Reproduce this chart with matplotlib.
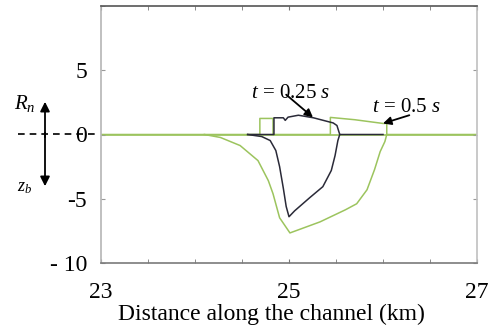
import matplotlib
matplotlib.use("Agg")
import matplotlib.pyplot as plt
import matplotlib.patches as mpatches
import numpy as np

# ---- data (km, m) ----
green_Rn_x = [23.0, 24.69, 24.69, 24.83, 24.83, 25.44, 25.44, 25.70, 26.00, 26.04, 26.04, 27.0]
green_Rn_y = [0.0, 0.0, 1.25, 1.25, 0.0, 0.0, 1.33, 1.15, 0.86, 0.86, 0.0, 0.0]

green_zb_x = [24.10, 24.27, 24.48, 24.67, 24.78, 24.83, 24.90, 25.01, 25.33, 25.60, 25.72,
              25.83, 25.91, 25.97, 26.02, 26.04]
green_zb_y = [0.0, -0.23, -0.86, -2.03, -3.59, -4.61, -6.48, -7.66, -6.80, -5.86, -5.39,
              -4.30, -2.73, -1.33, -0.55, 0.0]

black_Rn_x = [24.56, 24.84, 24.84, 24.94, 24.96, 24.99, 25.10, 25.26, 25.47, 25.51, 25.54, 26.0]
black_Rn_y = [0.0, 0.0, 1.30, 1.30, 1.10, 1.35, 1.50, 1.30, 0.90, 0.70, 0.0, 0.0]

black_zb_x = [24.56, 24.71, 24.80, 24.86, 24.90, 24.94, 24.97, 25.00, 25.06, 25.22, 25.36,
              25.45, 25.49, 25.52, 25.54]
black_zb_y = [0.0, -0.16, -0.47, -1.25, -2.50, -4.20, -5.60, -6.40, -5.94, -4.92, -4.06,
              -2.80, -1.64, -0.47, 0.0]

xticks = [23, 25, 27]
yticks = [-10, -5, 0, 5]
ytick_labels = ["- 10", "-5", "0", "5"]

GREEN = "#9cc45e"
DARK = "#2a2a38"
SERIF = ["Liberation Serif", "DejaVu Serif"]

plt.rcParams["font.family"] = SERIF
plt.rcParams["mathtext.fontset"] = "custom"
plt.rcParams["mathtext.rm"] = "Liberation Serif"
plt.rcParams["mathtext.it"] = "Liberation Serif:italic"

fig = plt.figure(figsize=(4.9, 3.32), dpi=100)
ax = fig.add_axes([101/490, 1-263/332, 376/490, 257/332])

ax.axhline(0, color=GREEN, lw=1.2, zorder=1)
ax.plot(green_zb_x, green_zb_y, color=GREEN, lw=1.1, zorder=2)
ax.plot(green_Rn_x, green_Rn_y, color=GREEN, lw=1.1, zorder=2)
ax.plot(black_zb_x, black_zb_y, color=DARK, lw=1.1, zorder=3)
ax.plot(black_Rn_x, black_Rn_y, color=DARK, lw=1.1, zorder=3)

ax.set_xlim(23, 27)
ax.set_ylim(-10, 10)
ax.set_xticks(np.arange(23, 27.01, 0.5), minor=True)
ax.set_xticks(xticks)
ax.set_xticklabels([str(v) for v in xticks], fontsize=17, fontfamily=SERIF)
ax.set_yticks(yticks)
ax.set_yticks([10], minor=True)
ax.set_yticklabels(ytick_labels, fontsize=17, fontfamily=SERIF)
ax.tick_params(axis="x", which="both", direction="in", top=True, length=3, pad=14,
               color="#777777")
ax.tick_params(axis="y", which="both", direction="in", right=True, length=3, pad=10,
               color="#999999")
ax.spines["left"].set_color("#b5b5b5")
ax.spines["right"].set_color("#c0c0c0")
ax.spines["bottom"].set_color("#7a7a7a")
ax.spines["top"].set_color("#555555")
for s in ax.spines.values():
    s.set_linewidth(1.2)

ax.set_xlabel("Distance along the channel (km)", fontsize=17, fontfamily=SERIF)
ax.xaxis.set_label_coords((271 - 101) / 376, -(304 - 263) / 257)

# annotations
ax.text(25.02, 3.2, "$t$ = 0.25 $s$", fontsize=15, ha="center", va="center")
ax.annotate("", xy=(25.255, 1.33), xytext=(24.97, 3.1),
            arrowprops=dict(arrowstyle="-|>", color="black", lw=1.3, mutation_scale=12,
                            shrinkA=0, shrinkB=0))
ax.text(26.25, 2.1, "$t$ = 0.5 $s$", fontsize=15, ha="center", va="center")
ax.annotate("", xy=(26.0, 0.86), xytext=(26.28, 1.5),
            arrowprops=dict(arrowstyle="-|>", color="black", lw=1.3, mutation_scale=12,
                            shrinkA=0, shrinkB=0))

# left-side sign convention
def fx(px):
    return px / 490
def fy(py):
    return 1 - py / 332

fig.add_artist(plt.Line2D([fx(18), fx(98)], [fy(134), fy(134)], color="black",
                          lw=1.2, ls=(0, (4, 3))))
fig.add_artist(mpatches.FancyArrowPatch((fx(45), fy(140)), (fx(45), fy(99)),
                                        transform=fig.transFigure,
                                        arrowstyle="-|>", mutation_scale=14,
                                        color="black", lw=1.3))
fig.add_artist(mpatches.FancyArrowPatch((fx(45), fy(130)), (fx(45), fy(189)),
                                        transform=fig.transFigure,
                                        arrowstyle="-|>", mutation_scale=14,
                                        color="black", lw=1.3))
fig.text(fx(14), fy(103), "$R_n$", fontsize=15, ha="left", va="center")
fig.text(fx(17), fy(187), "$z_b$", fontsize=13, ha="left", va="center")

fig.savefig("out.png", dpi=100)
